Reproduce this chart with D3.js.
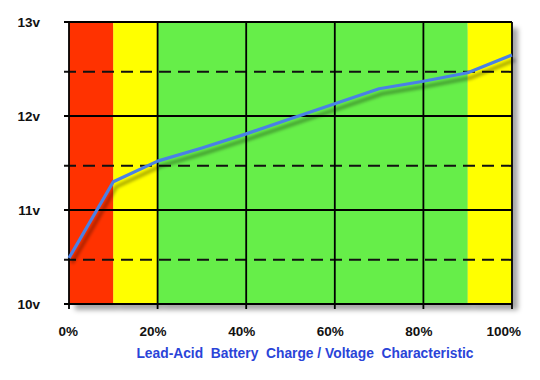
<!DOCTYPE html>
<html lang="en">
<head>
    <meta charset="utf-8">
    <title>Lead-Acid Battery Charge / Voltage</title>
    <style>
        body { margin: 0; background: #fff; }
        svg text { font-family: "Liberation Sans", Arial, sans-serif; font-weight: bold; font-size: 13.5px; }
    </style>
</head>
<body>
    <svg id="chart" width="540" height="380"></svg>
    <script src="https://cdn.jsdelivr.net/npm/d3@7"></script>
    <script>
        // data
        var charge = [0, 10, 20, 30, 40, 50, 60, 70, 80, 90, 100];
        var voltage = [10.49, 11.3, 11.52, 11.66, 11.81, 11.97, 12.13, 12.29, 12.37, 12.46, 12.65];
        var zoneEdges = [0, 10, 20, 90, 100];
        var xTicks = [0, 20, 40, 60, 80, 100];
        var yTicks = [10, 11, 12, 13];
        var yDashed = [10.47, 11.47, 12.47];
        var title = "Lead-Acid  Battery  Charge / Voltage  Characteristic";

        var zoneColors = ["#ff3300", "#ffff00", "#66ee4a", "#ffff00"];

        var svg = d3.select("#chart");
        var x = d3.scaleLinear().domain([0, 100]).range([69, 512]);
        var y = d3.scaleLinear().domain([10, 13]).range([304, 22]);

        var defs = svg.append("defs");
        defs.append("filter").attr("id", "boxShadow")
            .attr("x", "-10%").attr("y", "-10%").attr("width", "130%").attr("height", "130%")
            .append("feDropShadow")
            .attr("dx", 6).attr("dy", 6).attr("stdDeviation", 2.5)
            .attr("flood-color", "#000").attr("flood-opacity", 0.35);
        defs.append("filter").attr("id", "blur")
            .append("feGaussianBlur").attr("stdDeviation", 1.6);

        // zones (with drop shadow on the whole box)
        var zones = svg.append("g").attr("filter", "url(#boxShadow)");
        zones.selectAll("rect")
            .data(d3.pairs(zoneEdges))
            .enter()
            .append("rect")
            .attr("x", function(d) { return x(d[0]); })
            .attr("y", y(13))
            .attr("width", function(d) { return x(d[1]) - x(d[0]); })
            .attr("height", y(10) - y(13))
            .attr("fill", function(d, i) { return zoneColors[i]; });

        // dashed half-volt lines
        svg.selectAll("line.half")
            .data(yDashed)
            .enter()
            .append("line")
            .attr("class", "half")
            .attr("x1", x(0) - 5).attr("x2", x(100))
            .attr("y1", function(d) { return y(d); })
            .attr("y2", function(d) { return y(d); })
            .attr("stroke", "#111")
            .attr("stroke-width", 2)
            .attr("stroke-dasharray", "12,7");

        // solid horizontal grid + ticks
        svg.selectAll("line.hgrid")
            .data(yTicks)
            .enter()
            .append("line")
            .attr("class", "hgrid")
            .attr("x1", x(0) - 5).attr("x2", x(100))
            .attr("y1", function(d) { return y(d); })
            .attr("y2", function(d) { return y(d); })
            .attr("stroke", "#000")
            .attr("stroke-width", 1.8);

        // vertical grid + ticks
        svg.selectAll("line.vgrid")
            .data(xTicks)
            .enter()
            .append("line")
            .attr("class", "vgrid")
            .attr("x1", function(d) { return x(d); })
            .attr("x2", function(d) { return x(d); })
            .attr("y1", y(13))
            .attr("y2", y(10) + 5)
            .attr("stroke", "#000")
            .attr("stroke-width", 1.8);

        // curve with soft shadow
        var line = d3.line()
            .x(function(d, i) { return x(charge[i]); })
            .y(function(d) { return y(d); });

        svg.append("path")
            .datum(voltage)
            .attr("d", line)
            .attr("transform", "translate(3,5)")
            .attr("fill", "none")
            .attr("stroke", "#000")
            .attr("stroke-opacity", 0.3)
            .attr("stroke-width", 4)
            .attr("filter", "url(#blur)");

        svg.append("path")
            .datum(voltage)
            .attr("d", line)
            .attr("fill", "none")
            .attr("stroke", "#4a80e6")
            .attr("stroke-width", 3.2)
            .attr("stroke-linejoin", "round");

        // y labels
        svg.selectAll("text.ylab")
            .data(yTicks)
            .enter()
            .append("text")
            .attr("class", "ylab")
            .attr("x", 40)
            .attr("y", function(d) { return y(d) + 5; })
            .attr("text-anchor", "end")
            .attr("fill", "#111")
            .text(function(d) { return d + "v"; });

        // x labels
        svg.selectAll("text.xlab")
            .data(xTicks)
            .enter()
            .append("text")
            .attr("class", "xlab")
            .attr("x", function(d) { return x(d) + 9; })
            .attr("y", 336)
            .attr("text-anchor", "end")
            .attr("fill", "#111")
            .text(function(d) { return d + "%"; });

        svg.append("text")
            .attr("x", 305)
            .attr("y", 358)
            .attr("text-anchor", "middle")
            .attr("fill", "#2a44d8")
            .style("font-size", "13.8px")
            .style("white-space", "pre")
            .text(title);
    </script>
</body>
</html>
